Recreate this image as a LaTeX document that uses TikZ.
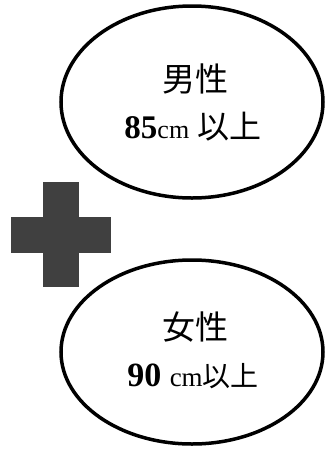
\documentclass[tikz,border=0pt]{standalone}
\usepackage{fontspec}
\setmainfont{Liberation Serif}
\newfontfamily\cjk{Noto Sans CJK JP}
\newcommand{\fs}[1]{\fontsize{#1}{#1}\selectfont}
\tikzset{
  lbl/.style={align=center,inner sep=0pt},
  plusbar/.style={fill=black!75,draw=none}
}
\begin{document}
\begin{tikzpicture}[x=1pt,y=-1pt]
\useasboundingbox (0,0) rectangle (326,456);
\draw[draw=black,line width=3.5pt] (192,102) ellipse [x radius=131,y radius=96];
\draw[draw=black,line width=3.5pt] (192,352) ellipse [x radius=131,y radius=92];
\fill[plusbar] (43,182) rectangle (79,287);
\fill[plusbar] (11,217) rectangle (111,253);
\node[lbl] (m1) at (195,79) {\cjk\fs{33pt}男性};
\node[lbl] (m2) at (193,127) {\fs{33pt}\textbf{85}{\fs{26pt}cm} {\cjk\fs{32pt}以上}};
\node[lbl] (f1) at (195,327) {\cjk\fs{33pt}女性};
\node[lbl] (f2) at (193,376) {\fs{34pt}\textbf{90} {\fs{27pt}cm}{\cjk\fs{28pt}以上}};
\end{tikzpicture}
\end{document}
